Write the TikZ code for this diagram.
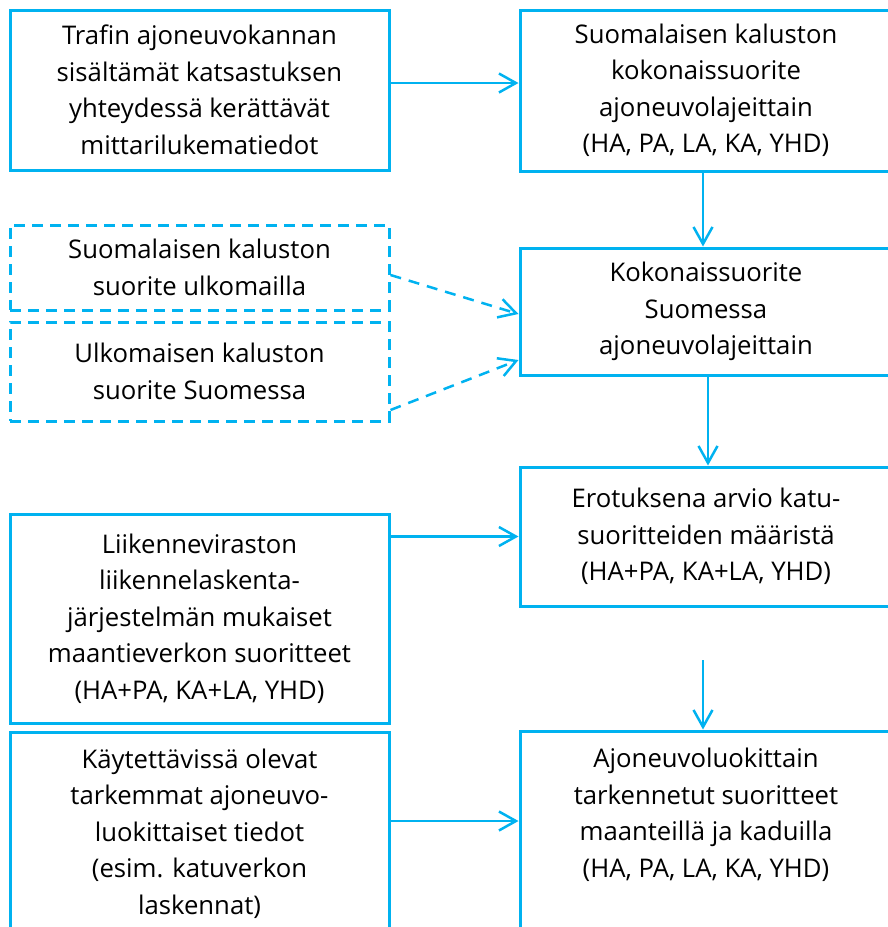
\documentclass[tikz,border=0pt]{standalone}
\usepackage{fontspec}
\setmainfont{Open Sans}
\usetikzlibrary{arrows.meta}
\definecolor{vcyan}{RGB}{0,178,240}

\begin{document}
\begin{tikzpicture}[x=1pt, y=-1pt, font=\fontsize{25.7}{36.5}\selectfont,
  box/.style = {draw=vcyan, line width=3pt, align=center, inner sep=2pt},
  dbox/.style = {box, dash pattern=on 11pt off 7pt},
  arr/.style = {draw=vcyan, line width=2.5pt, -{Straight Barb[length=17pt, width=19pt]}}]
\useasboundingbox (0,0) rectangle (888,927);
% left column
\node[box, minimum width=379pt, minimum height=160pt] (trafi) at (199.5,90) {Trafin ajoneuvokannan\\sisältämät katsastuksen\\yhteydessä kerättävät\\mittarilukematiedot};
\node[dbox, minimum width=379pt, minimum height=85pt] (ulk) at (199.5,267.5) {Suomalaisen kaluston\\suorite ulkomailla};
\node[dbox, minimum width=379pt, minimum height=99pt] (suo) at (199.5,371.5) {Ulkomaisen kaluston\\suorite Suomessa};
\node[box, minimum width=379pt, minimum height=209pt] (lask) at (199.5,618.5) {Liikenneviraston\\liikennelaskenta-\\järjestelmän mukaiset\\maantieverkon suoritteet\\(HA+PA, KA+LA, YHD)};
\node[box, minimum width=379pt, minimum height=203pt] (tark) at (199.5,833.5) {Käytettävissä olevat\\tarkemmat ajoneuvo-\\luokittaiset tiedot\\(esim. katuverkon\\laskennat)};
% right column
\node[box, minimum width=372pt, minimum height=161pt] (kok) at (706,90.5) {Suomalaisen kaluston\\kokonaissuorite\\ajoneuvolajeittain\\(HA, PA, LA, KA, YHD)};
\node[box, minimum width=372pt, minimum height=127pt] (fin) at (706,311.5) {Kokonaissuorite\\Suomessa\\ajoneuvolajeittain};
\node[box, minimum width=372pt, minimum height=139pt] (kat) at (706,536.5) {Erotuksena arvio katu-\\suoritteiden määristä\\(HA+PA, KA+LA, YHD)};
\node[box, minimum width=372pt, minimum height=214pt] (luok) at (706,838) {};
\node[align=center] (luoktxt) at (706,815) {Ajoneuvoluokittain\\tarkennetut suoritteet\\maanteillä ja kaduilla\\(HA, PA, LA, KA, YHD)};
\coordinate (gap) at (703,660);
% connectors
\draw[arr] ([yshift=7pt]trafi.east) -- ([yshift=7pt]trafi.east -| kok.west);
\draw[arr] ([xshift=-3pt]kok.south) -- ([xshift=-3pt]fin.north);
\draw[arr, dash pattern=on 11pt off 8pt] ([yshift=-7.5pt]ulk.east) -- ([yshift=-2.5pt]fin.west);
\draw[arr, dash pattern=on 11pt off 8pt] ([yshift=-38.5pt]suo.east) -- ([yshift=-48.5pt]fin.west);
\draw[arr] ([xshift=2pt]fin.south) -- ([xshift=2pt]kat.north);
\draw[arr] (lask.east |- kat.west) -- (kat.west);
\draw[arr] (gap) -- (gap |- luok.north);
\draw[arr] ([yshift=12.5pt]tark.east) -- ([yshift=12.5pt]tark.east -| luok.west);
\end{tikzpicture}
\end{document}
